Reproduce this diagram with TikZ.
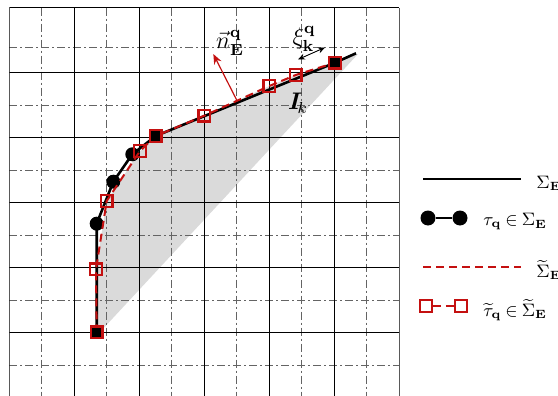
\documentclass[tikz,border=0pt]{standalone}
\usepackage{amsmath,amssymb,bm}
\usetikzlibrary{arrows.meta}
\definecolor{myred}{RGB}{196,16,16}
\definecolor{gridgray}{RGB}{100,100,100}
\definecolor{shadegray}{RGB}{218,218,218}
\begin{document}
\begin{tikzpicture}[x=0.5pt,y=-0.5pt,
  gridsolid/.style={line width=0.6pt,black},
  griddash/.style={line width=0.6pt,gridgray,dash pattern=on 4pt off 1.5pt on 1pt off 1.5pt},
  curveline/.style={line width=1.3pt,black},
  redline/.style={line width=1pt,myred,dash pattern=on 4pt off 2.5pt},
  dot/.style={circle,fill=black,inner sep=0pt,minimum size=7pt},
  sq/.style={rectangle,draw=myred,line width=1.1pt,inner sep=0pt,minimum size=5.8pt},
  sqfill/.style={sq,fill=black},
  lbl/.style={inner sep=0pt,font=\large},
  leg/.style={inner sep=0pt,anchor=west,font=\fontsize{9}{11}\selectfont}]
\useasboundingbox (0,0) rectangle (558,396);
% curve points
\coordinate (p0) at (96.7,332.3);
\coordinate (p1) at (96.7,223.7);
\coordinate (p2) at (113.3,181.7);
\coordinate (p3) at (132.3,154.3);
\coordinate (p4) at (155.7,136);
\coordinate (p5) at (335,62.7);
\coordinate (pend) at (356,53.3);
\coordinate (q1) at (96,269.3);
\coordinate (q2) at (106.7,201);
\coordinate (q3) at (140,151);
\coordinate (q5) at (204.3,115.7);
\coordinate (q6) at (269.3,86);
\coordinate (q7) at (295.7,75);
\coordinate (tr) at (358,54);
\coordinate (bl) at (100,332);
% shaded region
\fill[shadegray] (p0) -- (q1) -- (q2) -- (q3) -- (p4) -- (q5) -- (q6) -- (q7) -- (p5) -- (tr) -- (bl) -- cycle;
% grid
\begin{scope}
\clip (9.3,7.7) rectangle (399.6,396);
\foreach \x in {41.8,106.8,171.8,236.8,301.8,366.8}
  \draw[griddash] (\x,7.7) -- (\x,396);
\foreach \y in {47.7,105.5,170.5,235.5,300.5,365.5}
  \draw[griddash] (9.3,\y) -- (399.3,\y);
\foreach \x in {9.3,74.3,139.3,204.3,269.3,334.3,399.3}
  \draw[gridsolid] (\x,7.7) -- (\x,396);
\foreach \y in {7.7,72.7,137.7,202.7,267.7,332.7}
  \draw[gridsolid] (9.3,\y) -- (399.3,\y);
\end{scope}
% exact curve
\draw[curveline] (p0) -- (p1) -- (p2) -- (p3) -- (p4) -- (p5) -- (pend);
\foreach \p in {p1,p2,p3} \node[dot] (d\p) at (\p) {};
% approximated curve
\draw[redline] (p0) -- (q1) -- (q2) -- (q3) -- (p4) -- (q5) -- (q6) -- (q7) -- (p5);
\foreach \p in {q1,q2,q3,q5,q6,q7} \node[sq] (s\p) at (\p) {};
\foreach \p in {p0,p4,p5} \node[sqfill] (f\p) at (\p) {};
% normal vector
\coordinate (nb) at (236.7,100);
\coordinate (nt) at (213.3,54);
\draw[myred,line width=0.6pt,-{Stealth[length=5pt,width=4pt]}] (nb) -- (nt);
\node[lbl] (nlab) at (230,43) {$\vec{n}^{\mathbf{q}}_{\mathbf{E}}$};
% xi arrow
\coordinate (xa) at (298,59.5);
\coordinate (xb) at (325,47.5);
\draw[black,line width=0.45pt,{Stealth[length=3.5pt,width=3pt]}-{Stealth[length=3.5pt,width=3pt]}] (xa) -- (xb);
\node[lbl] (xilab) at (304,39) {$\xi^{\mathbf{q}}_{\mathbf{k}}$};
% I_k
\node[lbl,font=\large] (ilab) at (298,103) {$\boldsymbol{I}_{\!k}$};
% legend
\coordinate (l1a) at (423,179); \coordinate (l1b) at (521,179);
\draw[curveline] (l1a) -- (l1b);
\node[leg] (t1) at (536,183) {$\Sigma_{\mathbf{E}}$};
\node[dot,minimum size=7.5pt] (l2a) at (428,218) {};
\node[dot,minimum size=7.5pt] (l2b) at (460,218) {};
\draw[curveline] (l2a) -- (l2b);
\node[leg] (t2) at (483,222) {$\tau_{\mathbf{q}}\mathbin{\in}\Sigma_{\mathbf{E}}$};
\coordinate (l3a) at (423,267); \coordinate (l3b) at (521,267);
\draw[redline] (l3a) -- (l3b);
\node[leg] (t3) at (536,270) {$\widetilde{\Sigma}_{\mathbf{E}}$};
\node[sq] (l4a) at (426,306) {};
\node[sq] (l4b) at (461,306) {};
\draw[redline] (l4a) -- (l4b);
\node[leg] (t4) at (483,310) {$\widetilde{\tau}_{\mathbf{q}}\mathbin{\in}\widetilde{\Sigma}_{\mathbf{E}}$};
\end{tikzpicture}
\end{document}
